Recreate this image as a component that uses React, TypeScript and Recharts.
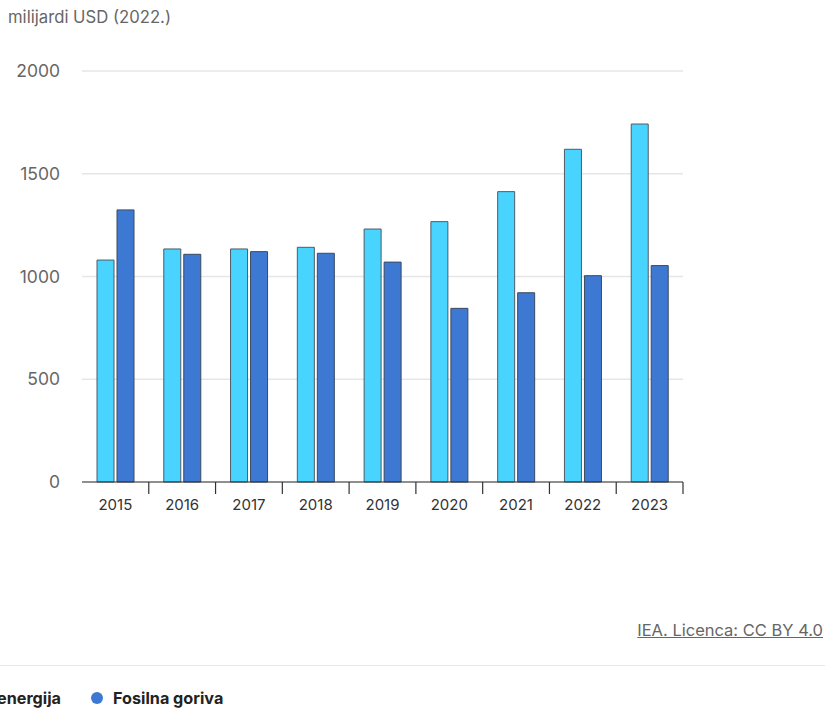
import React from "react";
import { BarChart, Bar, XAxis, YAxis, CartesianGrid } from "recharts";

const years = ["2015", "2016", "2017", "2018", "2019", "2020", "2021", "2022", "2023"];
const cleanEnergy = [1080, 1134, 1134, 1142, 1231, 1267, 1413, 1619, 1742];
const fossilFuels = [1324, 1108, 1121, 1113, 1070, 845, 921, 1004, 1053];
const yTicks = [0, 500, 1000, 1500, 2000];

const seriesNames = { clean: "Čista energija", fossil: "Fosilna goriva" };
const colors = { clean: "#48d4fe", fossil: "#3d79d3" };

const data = years.map((y, i) => ({ year: y, clean: cleanEnergy[i], fossil: fossilFuels[i] }));

const FONT = "Inter, Roboto, 'Noto Sans', sans-serif";
const PLOT_LEFT = 82;
const PLOT_RIGHT = 683;
const BAND = (PLOT_RIGHT - PLOT_LEFT) / years.length;

const XTick = (props: any) => {
  const { x, y, payload } = props;
  const half = payload && payload.offset ? payload.offset : BAND / 2;
  return (
    <g>
      <line x1={x + half} x2={x + half} y1={y - 8} y2={y + 4} stroke="#333" strokeWidth={1.2} />
      <text x={x} y={y + 20} textAnchor="middle" fill="#333" fontSize={15} fontFamily={FONT}>
        {payload.value}
      </text>
    </g>
  );
};

export default function App() {
  return (
    <div style={{ position: "absolute", left: 0, top: 0, width: 825, height: 708, overflow: "hidden", background: "#fff", fontFamily: FONT }}>
      <div style={{ position: "absolute", left: 8, top: 7, fontSize: 16.7, color: "#666" }}>milijardi USD (2022.)</div>
      <div style={{ position: "absolute", left: 0, top: 0 }}>
        <BarChart
          width={700}
          height={530}
          data={data}
          margin={{ top: 71, right: 17, left: 0, bottom: 0 }}
          barSize={17}
          barGap={3}
        >
          <CartesianGrid vertical={false} stroke="#e6e6e6" strokeWidth={1.5} />
          <XAxis
            dataKey="year"
            height={48}
            axisLine={{ stroke: "#333", strokeWidth: 1.2 }}
            tickLine={false}
            tick={<XTick />}
            interval={0}
          />
          <YAxis
            width={82}
            domain={[0, 2000]}
            ticks={yTicks}
            axisLine={false}
            tickLine={false}
            tickMargin={16}
            tick={{ fill: "#666", fontSize: 17.5, fontFamily: FONT }}
          />
          <Bar dataKey="clean" name={seriesNames.clean} fill={colors.clean} stroke="#4f5b66" strokeWidth={1} isAnimationActive={false} />
          <Bar dataKey="fossil" name={seriesNames.fossil} fill={colors.fossil} stroke="#3a4a5e" strokeWidth={1} isAnimationActive={false} />
        </BarChart>
      </div>
      <div style={{ position: "absolute", right: 2, top: 620, fontSize: 16.5, color: "#666", textDecoration: "underline" }}>
        IEA. Licenca: CC BY 4.0
      </div>
      <div style={{ position: "absolute", left: 0, top: 665, width: 825, height: 1, background: "#e6e6e6" }} />
      <div style={{ position: "absolute", right: 825 - 61, top: 688, fontSize: 16.2, fontWeight: 700, color: "#222", whiteSpace: "nowrap", display: "flex", alignItems: "center" }}>
        <span style={{ display: "inline-block", width: 12, height: 12, borderRadius: 6, background: colors.clean, marginRight: 12 }} />
        {seriesNames.clean}
      </div>
      <div style={{ position: "absolute", left: 91, top: 688, fontSize: 16.2, fontWeight: 700, color: "#222", whiteSpace: "nowrap", display: "flex", alignItems: "center" }}>
        <span style={{ display: "inline-block", width: 12, height: 12, borderRadius: 6, background: colors.fossil, marginRight: 10 }} />
        {seriesNames.fossil}
      </div>
    </div>
  );
}
